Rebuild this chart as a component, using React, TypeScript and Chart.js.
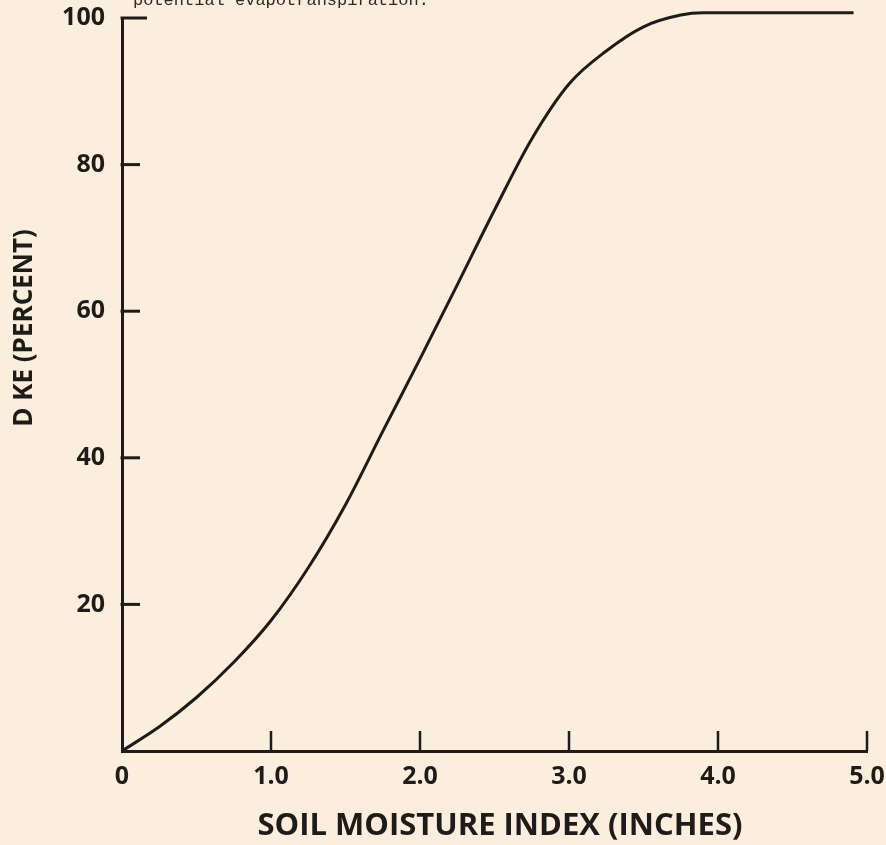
import React, { useEffect, useRef } from "react";
import { Chart, registerables } from "chart.js";

Chart.register(...registerables);

// Soil moisture index (inches)
const xValues = [0, 0.25, 0.5, 0.75, 1.0, 1.25, 1.5, 1.75, 2.0, 2.25, 2.5, 2.75, 3.0, 3.25, 3.5, 3.75, 3.9, 4.25, 4.6, 4.91];
// DKE (percent)
const dkeValues = [0, 3.3, 7.3, 12.1, 17.8, 25.0, 33.6, 43.6, 53.5, 63.6, 73.8, 83.5, 91.0, 95.5, 98.8, 100.4, 100.7, 100.7, 100.7, 100.7];

const xTickValues = [1, 2, 3, 4, 5];
const yTickValues = [20, 40, 60, 80, 100];

const xTitle = "SOIL MOISTURE INDEX (INCHES)";
const yTitle = "D KE (PERCENT)";
const caption = "potential evapotranspiration.";

const BG = "#fbeedc";
const INK = "#1e1c1a";

const decor = {
  id: "decor",
  beforeDraw(chart: any) {
    const { ctx, width, height } = chart;
    ctx.save();
    ctx.fillStyle = BG;
    ctx.fillRect(0, 0, width, height);
    ctx.restore();
  },
  afterDraw(chart: any) {
    const { ctx, chartArea, scales } = chart;
    const xs = scales.x;
    const ys = scales.y;
    ctx.save();
    ctx.strokeStyle = INK;
    ctx.lineWidth = 3;
    ctx.lineCap = "butt";
    // inside ticks on y axis
    yTickValues.forEach((v) => {
      const py = ys.getPixelForValue(v);
      ctx.beginPath();
      ctx.moveTo(chartArea.left - 1.5, py);
      ctx.lineTo(chartArea.left + (v === 100 ? 25 : 18), py);
      ctx.stroke();
    });
    // inside ticks on x axis
    ctx.lineWidth = 2.5;
    xTickValues.forEach((v) => {
      const px = xs.getPixelForValue(v);
      ctx.beginPath();
      ctx.moveTo(px, chartArea.bottom);
      ctx.lineTo(px, chartArea.bottom - 20);
      ctx.stroke();
    });
    // titles
    ctx.fillStyle = INK;
    ctx.font = "bold 31px 'Open Sans'";
    ctx.textAlign = "center";
    ctx.textBaseline = "middle";
    ctx.fillText(xTitle, 500, 826);
    ctx.save();
    ctx.translate(25, 328);
    ctx.rotate(-Math.PI / 2);
    ctx.font = "bold 26px 'Open Sans'";
    ctx.fillText(yTitle, 0, 0);
    ctx.restore();
    // caption cut off at top
    ctx.fillStyle = "#2e2b28";
    ctx.font = "17px 'Liberation Mono'";
    ctx.textAlign = "left";
    ctx.textBaseline = "alphabetic";
    ctx.fillText(caption, 133, 5);
    ctx.restore();
  },
};

export default function App() {
  const ref = useRef<HTMLCanvasElement>(null);
  useEffect(() => {
    document.body.style.background = BG;
    const chart = new Chart(ref.current!, {
      type: "line",
      data: {
        datasets: [
          {
            data: xValues.map((x, i) => ({ x, y: dkeValues[i] })),
            borderColor: INK,
            borderWidth: 3,
            pointRadius: 0,
            cubicInterpolationMode: "monotone",
            fill: false,
            clip: false as any,
          },
        ],
      },
      options: {
        animation: false,
        responsive: false,
        devicePixelRatio: 1,
        layout: { padding: { top: 18, left: 0, right: 19, bottom: 0 } },
        plugins: { legend: { display: false }, tooltip: { enabled: false } },
        scales: {
          x: {
            type: "linear",
            min: 0,
            max: 5,
            grid: { display: false, drawTicks: false },
            border: { display: true, color: INK, width: 3 },
            afterFit: (s: any) => {
              s.height = 94;
              s.paddingLeft = 0;
              s.paddingRight = 0;
            },
            afterBuildTicks: (s: any) => {
              s.ticks = [0, ...xTickValues].map((v) => ({ value: v }));
            },
            ticks: {
              padding: 11,
              color: INK,
              font: { family: "'Open Sans'", weight: "bold", size: 25 },
              callback: (v: any) => (v === 0 ? "0" : Number(v).toFixed(1)),
            },
          },
          y: {
            type: "linear",
            min: 0,
            max: 100,
            grid: { display: false, drawTicks: false },
            border: { display: true, color: INK, width: 3 },
            afterFit: (s: any) => {
              s.width = 122;
              s.paddingTop = 0;
              s.paddingBottom = 0;
            },
            afterBuildTicks: (s: any) => {
              s.ticks = yTickValues.map((v) => ({ value: v }));
            },
            ticks: {
              padding: 17,
              color: INK,
              font: { family: "'Open Sans'", weight: "bold", size: 25 },
              callback: (v: any) => String(v),
            },
          },
        },
      },
      plugins: [decor],
    });
    return () => chart.destroy();
  }, []);
  return (
    <div style={{ position: "fixed", left: 0, top: 0, width: 886, height: 845 }}>
      <canvas ref={ref} width={886} height={845} style={{ display: "block" }} />
    </div>
  );
}
